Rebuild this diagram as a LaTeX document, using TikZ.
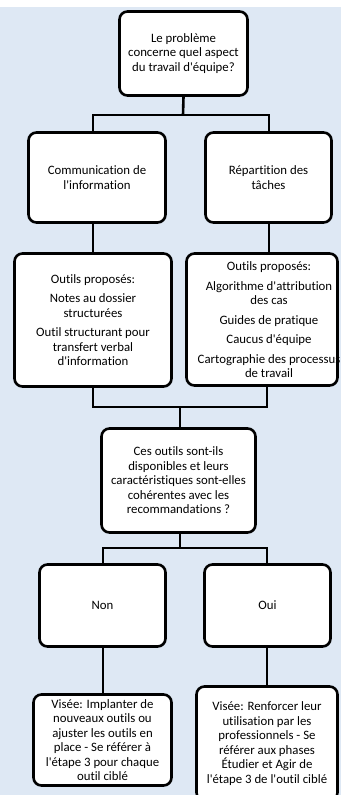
\documentclass[tikz,border=0pt]{standalone}
\usepackage{fontspec}
\setmainfont{Carlito}[Ligatures={TeXOff,NoCommon}]
\definecolor{bgblue}{HTML}{DEE8F4}
\tikzset{
  box/.style={draw=black, line width=2.6pt, rounded corners=8pt, fill=white,
    inner sep=0pt, align=center, font=\fontsize{12.8}{14.5}\selectfont},
  conn/.style={draw=black, line width=2.6pt},
  lbl/.style={inner sep=0pt, align=center, font=\fontsize{12.8}{14.5}\selectfont}
}
\begin{document}
\begin{tikzpicture}[x=1pt,y=-1pt]
\useasboundingbox (0,0) rectangle (341,795);
\clip (0,0) rectangle (341,795);
\fill[bgblue] (0,7) rectangle (341,795);
\coordinate (j1) at (183,115);
\coordinate (j1l) at (93,115);
\coordinate (j1r) at (269,115);
\coordinate (j2) at (180,407);
\coordinate (j2l) at (93,407);
\coordinate (j2r) at (267,407);
\coordinate (j3) at (180,548);
\coordinate (j3l) at (103,548);
\coordinate (j3r) at (267,548);
% boxes
\node[box, minimum width=128pt, minimum height=84pt] (top) at (183.5,53.5)
  {Le problème\\concerne quel aspect\\du travail d'équipe?};
\node[box, minimum width=137pt, minimum height=90pt] (comm) at (97,177.5)
  {Communication de\\l'information};
\node[box, minimum width=126pt, minimum height=90pt] (rep) at (268.5,177.5)
  {Répartition des\\tâches};
\node[box, minimum width=157pt, minimum height=133pt] (toolsL) at (93,320)
  {Outils proposés:\\[5pt]Notes au dossier\\structurées\\[5pt]Outil structurant pour\\transfert verbal\\d'information};
\node[box, minimum width=151pt, minimum height=132pt] (toolsR) at (262,319.5) {};
\node[lbl] (toolsRt) at (269,320)
  {Outils proposés:\\[5pt]Algorithme d'attribution\\des cas\\[5pt]Guides de pratique\\[5pt]Caucus d'équipe\\[5pt]Cartographie des processus\\de travail};
\node[box, minimum width=154pt, minimum height=104pt] (q) at (178.5,480.5)
  {Ces outils sont-ils\\disponibles et leurs\\caractéristiques sont-elles\\cohérentes avec les\\recommandations ?};
\node[box, minimum width=126pt, minimum height=82pt] (non) at (102.5,605.5) {Non};
\node[box, minimum width=126pt, minimum height=82pt] (oui) at (267.5,605.5) {Oui};
\node[box, minimum width=138pt, minimum height=91pt] (visnon) at (102.5,740)
  {Visée: Implanter de\\nouveaux outils ou\\ajuster les outils en\\place - Se référer à\\l'étape 3 pour chaque\\outil ciblé};
\node[box, minimum width=141pt, minimum height=114pt] (visoui) at (267,743.5)
  {Visée: Renforcer leur\\utilisation par les\\professionnels - Se\\référer aux phases\\Étudier et Agir de\\l'étape 3 de l'outil ciblé};
% connectors
\draw[conn] (top.south) -- (j1);
\draw[conn] (j1l |- comm.north) -- (j1l) -- (j1r) -- (j1r |- rep.north);
\draw[conn] (toolsL.north |- comm.south) -- (toolsL.north);
\draw[conn] (j1r |- rep.south) -- (j1r |- toolsR.north);
\draw[conn] (j2l |- toolsL.south) -- (j2l) -- (j2r) -- (j2r |- toolsR.south);
\draw[conn] (j2) -- (j2 |- q.north);
\draw[conn] (j3 |- q.south) -- (j3);
\draw[conn] (j3l |- non.north) -- (j3l) -- (j3r) -- (j3r |- oui.north);
\draw[conn] (j3l |- non.south) -- (j3l |- visnon.north);
\draw[conn] (j3r |- oui.south) -- (j3r |- visoui.north);
\end{tikzpicture}
\end{document}
